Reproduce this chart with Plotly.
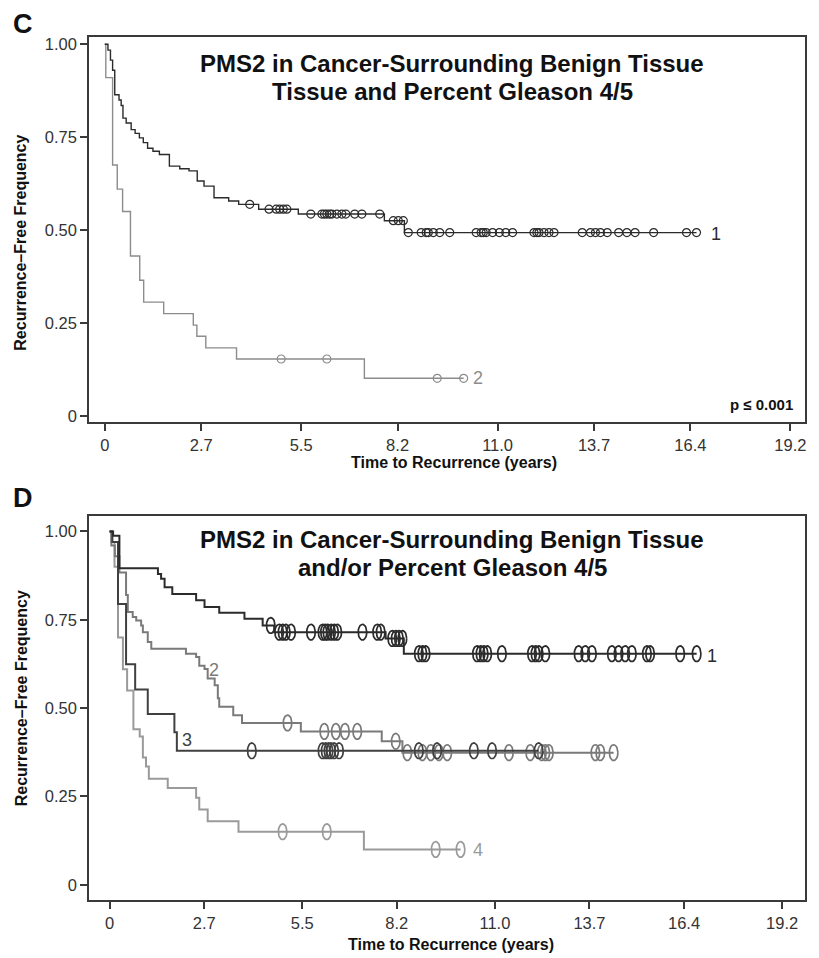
import numpy as np
import plotly.graph_objects as go

# ---------------- DATA (years, recurrence-free frequency) ----------------
x_tick_vals = [0, 2.7, 5.5, 8.2, 11.0, 13.7, 16.4, 19.2]
x_tick_text = ["0", "2.7", "5.5", "8.2", "11.0", "13.7", "16.4", "19.2"]
y_tick_vals = [0, 0.25, 0.5, 0.75, 1.0]
y_tick_text = ["0", "0.25", "0.50", "0.75", "1.00"]

# Panel C, group 1
c1_event_t = [0.09, 0.16, 0.22, 0.28, 0.40, 0.46, 0.51, 0.60, 0.74, 0.85, 0.97, 1.08, 1.20,
              1.35, 1.53, 1.81, 2.10, 2.36, 2.59, 2.78, 3.06, 3.47, 3.75, 4.31, 5.42, 7.83, 8.39]
c1_surv = [0.984, 0.957, 0.93, 0.864, 0.85, 0.835, 0.801, 0.788, 0.770, 0.76, 0.748, 0.735, 0.720,
           0.712, 0.703, 0.672, 0.665, 0.659, 0.632, 0.618, 0.587, 0.578, 0.569, 0.556, 0.543, 0.525, 0.493]
c1_censor = [4.06, 4.6, 4.8, 4.9, 5.0, 5.1, 5.77, 6.08, 6.15, 6.22, 6.3, 6.36, 6.5, 6.64, 6.75,
             7.0, 7.2, 7.7, 8.08, 8.22, 8.36, 8.5, 8.86, 9.0, 9.06, 9.2, 9.38, 9.66, 10.4, 10.54,
             10.6, 10.68, 10.86, 11.05, 11.23, 11.42, 12.02, 12.1, 12.16, 12.3, 12.44, 12.58,
             13.37, 13.6, 13.74, 13.88, 14.07, 14.39, 14.62, 14.85, 15.37, 16.29, 16.57]

# Panel C, group 2
c2_event_t = [0.03, 0.22, 0.35, 0.50, 0.72, 0.98, 1.09, 1.65, 2.48, 2.58, 2.83, 3.69, 7.27]
c2_surv = [0.91, 0.675, 0.61, 0.55, 0.43, 0.365, 0.306, 0.275, 0.244, 0.214, 0.183, 0.153, 0.101]
c2_censor = [4.94, 6.22, 9.31, 10.05]

# Panel D, group 1
d1_event_t = [0.1, 0.28, 1.38, 1.47, 1.57, 1.79, 2.47, 2.71, 3.13, 3.85, 4.37, 4.7, 7.88, 8.4]
d1_surv = [0.988, 0.896, 0.88, 0.866, 0.842, 0.823, 0.805, 0.786, 0.77, 0.753, 0.734, 0.715, 0.697, 0.654]
d1_censor = [4.6, 4.84, 4.94, 5.03, 5.18, 5.75, 6.08, 6.15, 6.22, 6.32, 6.41, 6.5, 7.22, 7.64,
             7.74, 8.07, 8.17, 8.26, 8.36, 8.83, 8.93, 9.02, 10.49, 10.59, 10.68, 10.78, 11.2,
             12.06, 12.16, 12.25, 12.44, 13.39, 13.58, 13.77, 14.34, 14.53, 14.72, 14.91,
             15.34, 15.43, 16.29, 16.76]

# Panel D, group 2
d2_event_t = [0.05, 0.15, 0.28, 0.47, 0.52, 0.66, 0.76, 0.9, 0.95, 1.09, 1.19, 2.18, 2.47, 2.56,
              2.71, 2.8, 3.0, 3.09, 3.13, 3.53, 3.78, 5.46, 7.77, 8.36]
d2_surv = [0.96, 0.93, 0.884, 0.82, 0.772, 0.758, 0.748, 0.734, 0.715, 0.687, 0.668, 0.654, 0.645,
           0.62, 0.611, 0.584, 0.565, 0.528, 0.504, 0.48, 0.458, 0.434, 0.406, 0.374]
d2_censor = [5.08, 6.13, 6.46, 6.72, 7.07, 8.17, 8.5, 8.93, 9.17, 9.4, 9.64, 11.4, 12.01, 12.34,
             12.44, 12.54, 13.87, 14.01, 14.39]

# Panel D, group 3
d3_event_t = [0.08, 0.24, 0.47, 0.73, 1.09, 1.85, 1.92]
d3_surv = [0.97, 0.795, 0.624, 0.553, 0.483, 0.432, 0.379]
d3_censor = [4.06, 6.08, 6.17, 6.25, 6.32, 6.41, 6.55, 8.83, 9.35, 10.4, 10.92, 12.25]

# Panel D, group 4
d4_event_t = [0.05, 0.14, 0.24, 0.38, 0.50, 0.68, 0.86, 0.95, 1.04, 1.12, 1.66, 2.47, 2.56, 2.8, 3.68, 7.26]
d4_surv = [0.97, 0.90, 0.70, 0.61, 0.55, 0.44, 0.42, 0.36, 0.335, 0.30, 0.274, 0.246, 0.213, 0.18, 0.15, 0.10]
d4_censor = [4.94, 6.2, 9.31, 10.02]

# ---------------- LAYOUT HELPERS ----------------
W, H = 819, 958
FONT = "Liberation Sans, Arial, sans-serif"

PLOT_L, PLOT_R = 89.5, 806.5
C_TOP, C_BOT = 35, 422
D_TOP, D_BOT = 517, 903
C_XR, C_YR = [-0.433, 19.595], [-0.016, 1.0198]
D_XR, D_YR = [-0.58, 19.84], [-0.044, 1.043]


def px(xp):
    return xp / W


def py(yp):
    return 1 - yp / H


def step_curve(t, s, censor):
    end = max(censor[-1], t[-1]) if censor else t[-1]
    xs = [0.0] + list(t) + [end]
    ys = [1.0] + list(s) + [s[-1]]
    return xs, ys


def surv_at(t, s, times):
    t = np.asarray(t)
    s = np.asarray(s)
    idx = np.searchsorted(t, np.asarray(times), side="right") - 1
    return np.where(idx >= 0, s[np.clip(idx, 0, None)], 1.0)


fig = go.Figure()

# ellipse glyph size (pixels) for panel D censor marks
ELL_RX_PX, ELL_RY_PX = 4.3, 7.9
d_xscale = (PLOT_R - PLOT_L) / (D_XR[1] - D_XR[0])   # px per year
d_yscale = (D_BOT - D_TOP) / (D_YR[1] - D_YR[0])     # px per unit
theta = np.linspace(0, 2 * np.pi, 29)


def add_km(t, s, censor, color, width, xa, ya, marker_mode):
    xs, ys = step_curve(t, s, censor)
    fig.add_trace(go.Scatter(x=xs, y=ys, mode="lines", line=dict(color=color, width=width, shape="hv"),
                             xaxis=xa, yaxis=ya, showlegend=False, hoverinfo="skip"))
    cy = surv_at(t, s, censor)
    if marker_mode == "circle":
        fig.add_trace(go.Scatter(x=censor, y=cy, mode="markers",
                                 marker=dict(symbol="circle-open", size=8, color=color,
                                             line=dict(width=1.2, color=color)),
                                 xaxis=xa, yaxis=ya, showlegend=False, hoverinfo="skip"))
    else:
        rx = ELL_RX_PX / d_xscale
        ry = ELL_RY_PX / d_yscale
        ex, ey = [], []
        for xc, yc in zip(censor, cy):
            ex.extend(list(xc + rx * np.cos(theta)) + [None])
            ey.extend(list(yc + ry * np.sin(theta)) + [None])
        fig.add_trace(go.Scatter(x=ex, y=ey, mode="lines", line=dict(color=color, width=1.7),
                                 xaxis=xa, yaxis=ya, showlegend=False, hoverinfo="skip"))


DARK = "#2b2b2b"
add_km(c2_event_t, c2_surv, c2_censor, "#8c8c8c", 1.4, "x", "y", "circle")
add_km(c1_event_t, c1_surv, c1_censor, DARK, 1.4, "x", "y", "circle")

add_km(d4_event_t, d4_surv, d4_censor, "#9a9a9a", 2, "x2", "y2", "ellipse")
add_km(d2_event_t, d2_surv, d2_censor, "#7a7a7a", 2, "x2", "y2", "ellipse")
add_km(d3_event_t, d3_surv, d3_censor, "#404040", 2, "x2", "y2", "ellipse")
add_km(d1_event_t, d1_surv, d1_censor, DARK, 2, "x2", "y2", "ellipse")

axis_common = dict(showline=True, mirror=True, linewidth=2, linecolor="#3a3a3a",
                   showgrid=False, zeroline=False, ticks="outside", ticklen=7, tickwidth=1.5,
                   tickcolor="#3a3a3a", tickfont=dict(family=FONT, size=16.5, color="#333333"))

fig.update_layout(
    width=W, height=H, margin=dict(l=0, r=0, t=0, b=0),
    paper_bgcolor="white", plot_bgcolor="white",
    xaxis=dict(domain=[px(PLOT_L), px(PLOT_R)], range=C_XR, anchor="y",
               tickvals=x_tick_vals, ticktext=x_tick_text, **axis_common),
    yaxis=dict(domain=[py(C_BOT), py(C_TOP)], range=C_YR, anchor="x",
               tickvals=y_tick_vals, ticktext=y_tick_text, **axis_common),
    xaxis2=dict(domain=[px(PLOT_L), px(PLOT_R)], range=D_XR, anchor="y2",
                tickvals=x_tick_vals, ticktext=x_tick_text, **axis_common),
    yaxis2=dict(domain=[py(D_BOT), py(D_TOP)], range=D_YR, anchor="x2",
                tickvals=y_tick_vals, ticktext=y_tick_text, **axis_common),
)


def ann(text, x, y, size, bold=False, color="#111111", xanchor="center", angle=0):
    fig.add_annotation(x=px(x), y=py(y), xref="paper", yref="paper", text=f"<b>{text}</b>" if bold else text,
                       showarrow=False, xanchor=xanchor, yanchor="middle", textangle=angle,
                       font=dict(family=FONT, size=size, color=color))


# panel letters
ann("C", 23, 22, 27, bold=True)
ann("D", 23, 499, 27, bold=True)
# titles
ann("PMS2 in Cancer-Surrounding Benign Tissue", 453.4, 61.5, 24, bold=True)
ann("Tissue and Percent Gleason 4/5", 453.4, 90, 24, bold=True)
ann("PMS2 in Cancer-Surrounding Benign Tissue", 453.4, 540, 24, bold=True)
ann("and/or Percent Gleason 4/5", 453.4, 568.5, 24, bold=True)
# axis titles
ann("Recurrence\u2013Free Frequency", 21, 242, 16, bold=True, angle=-90)
ann("Recurrence\u2013Free Frequency", 21, 700, 16, bold=True, angle=-90)
ann("Time to Recurrence (years)", 455, 463, 16, bold=True)
ann("Time to Recurrence (years)", 452, 947, 16, bold=True)
# p-value
ann("p \u2264 0.001", 797, 405, 15, bold=True, xanchor="right")
# curve labels
ann("1", 718, 233, 18, color=DARK)
ann("2", 479, 378, 18, color="#8c8c8c")
ann("1", 714, 657, 18, color=DARK)
ann("2", 215, 672, 18, color="#7a7a7a")
ann("3", 187, 742, 18, color="#404040")
ann("4", 479, 852, 18, color="#9a9a9a")

fig.write_html("out.html", config={"displayModeBar": False},
               post_script="document.body.style.margin='0px';")
